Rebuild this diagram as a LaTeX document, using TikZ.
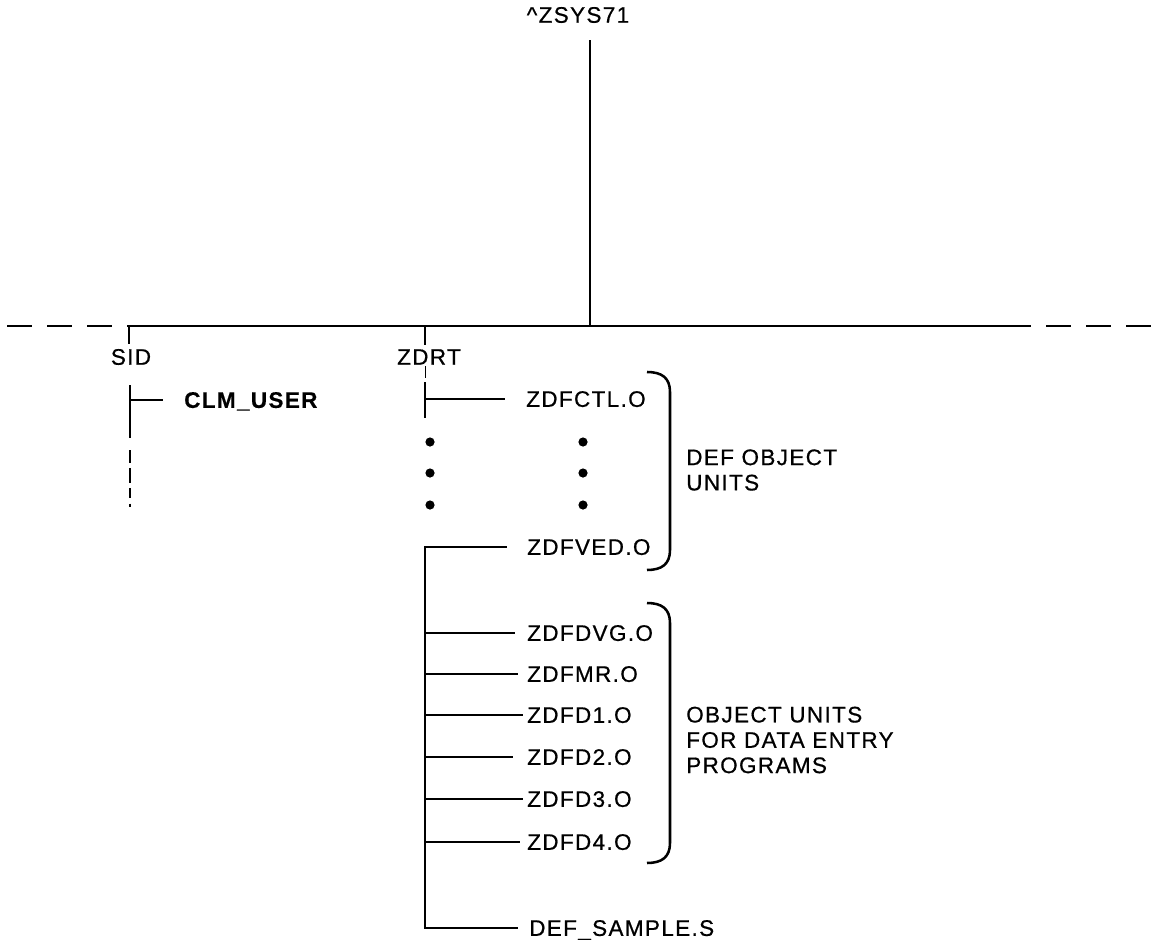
\documentclass[tikz,border=0pt]{standalone}
\usepackage{fontspec}
\setmainfont{Liberation Sans}[LetterSpace=6,FakeBold=0.6,BoldFeatures={FakeBold=0.4}]
\usepackage{tikz}
\usetikzlibrary{calc}

\begin{document}
\begin{tikzpicture}[x=0.025cm,y=-0.025cm,line width=1.8pt,
  every node/.style={font=\fontsize{16pt}{18pt}\selectfont,inner sep=0pt},
  unit/.style={anchor=west,text depth=0pt},
  busdash/.style={dash pattern=on 0.625cm off 0.375cm},
  taildash/.style={line width=1.5pt,dash pattern=on 0pt off 0.3cm on 0.33cm off 0.13cm on 0.37cm off 0.13cm on 0.25cm off 0.13cm on 0.2cm off 1cm}]
  \useasboundingbox (0,0) rectangle (1159,940);

  % root and the bus
  \node (zsys) at (578,15) {\textasciicircum ZSYS71};
  \coordinate (root) at (590,40);
  \coordinate (busL) at (129,326);
  \coordinate (busR) at (1031,326);
  \coordinate (busLend) at (7,326);
  \coordinate (busRend) at (1159,326);
  \draw (root) -- (root |- busL);
  \draw (busL) -- (busR);
  \draw[busdash] (busLend) -- (busL);
  \draw[busdash,dash phase=0.625cm] (busR) -- (busRend);

  % SID
  \node (sid) at (131,357) {SID};
  \coordinate (sidtop) at (129,344);
  \coordinate (sidA) at (130,385);
  \coordinate (sidB) at (130,438);
  \coordinate (sidC) at (130,507);
  \draw (busL) -- (sidtop);
  \node[unit] (clm) at (183,400) {\bfseries CLM\_USER};
  \draw (sidA) -- (sidB);
  \draw[taildash] (sidB) -- (sidC);
  \draw (sidA |- clm.west) -- ([xshift=-0.5cm]clm.west);

  % ZDRT
  \node (zdrt) at (429,357) {ZDRT};
  \coordinate (zdrtbus) at (425,326);
  \coordinate (zdrttop) at (425,345);
  \coordinate (zdrtA) at (425,382);
  \coordinate (zdrtB) at (425,418);
  \draw (zdrtbus) -- (zdrttop);
  \draw[line width=0.6pt] (zdrt.south -| zdrtA) -- ([yshift=0.1cm]zdrtA);
  \node[unit] (zdfctl) at (525,399) {ZDFCTL.O};
  \draw (zdrtA) -- (zdrtB);
  \draw (zdrtA |- zdfctl.west) -- ([xshift=-0.5cm]zdfctl.west);
  \foreach \y in {442,473,505} {
    \fill (430,\y) circle (0.115cm);
    \fill (583,\y) circle (0.115cm);
  }

  \coordinate (trunk) at (425,548);
  \node[unit] (zdfved) at (526,547) {ZDFVED.O};
  \node[unit] (defsample) at (528,928) {DEF\_SAMPLE.S};
  \draw ([xshift=-0.475cm]zdfved.west) -- (trunk |- zdfved.west)
    -- (trunk |- defsample.west) -- ([xshift=-0.25cm]defsample.west);
  \foreach \n/\y/\t/\g in {zdfdvg/633/ZDFDVG.O/11, zdfmr/674/ZDFMR.O/8,
      zdfdone/715/ZDFD1.O/3, zdfdtwo/757/ZDFD2.O/13,
      zdfdthree/799/ZDFD3.O/3, zdfdfour/842/ZDFD4.O/6} {
    \node[unit] (\n) at (526,\y) {\t};
    \draw (trunk |- \n.west) -- ([xshift=-\g*0.025cm]\n.west);
  }

  % braces
  \draw (647,372) .. controls (662,372) and (670,378) .. (670,392)
    -- (670,550) .. controls (670,564) and (662,570) .. (647,570);
  \node[anchor=west,align=left] (defobj) at (685,470) {DEF OBJECT\\UNITS};
  \draw (647,603) .. controls (662,603) and (670,609) .. (670,623)
    -- (670,843) .. controls (670,857) and (662,863) .. (647,863);
  \node[anchor=west,align=left] (objunits) at (685,740) {OBJECT UNITS\\FOR DATA ENTRY\\PROGRAMS};
\end{tikzpicture}
\end{document}
